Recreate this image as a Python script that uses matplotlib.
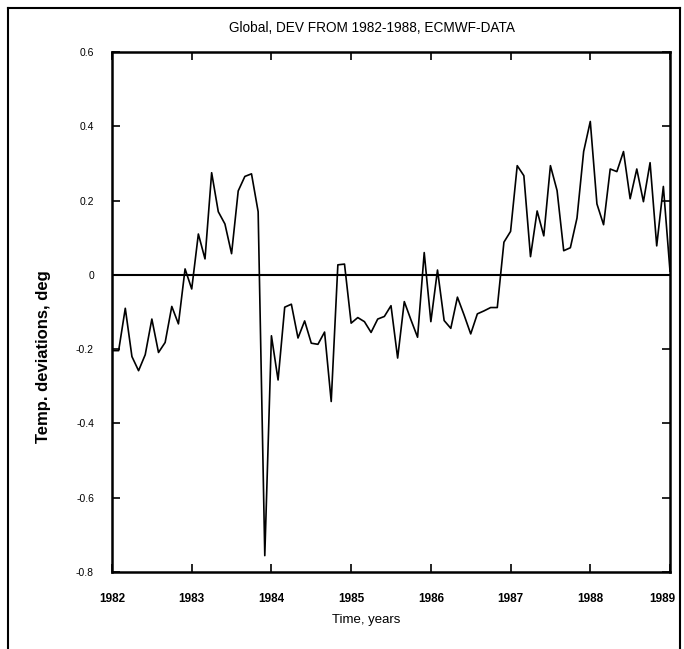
import matplotlib
matplotlib.use("Agg")
import matplotlib.pyplot as plt
from matplotlib import transforms
import numpy as np

# ---- data (monthly deviations, Jan 1982 .. Jan 1989) ----
start_year = 1982
deviations = [
    -0.204, -0.204, -0.090, -0.220, -0.258, -0.215, -0.119, -0.209, -0.182, -0.085, -0.132, 0.016,
    -0.038, 0.110, 0.043, 0.275, 0.170, 0.137, 0.057, 0.226, 0.265, 0.272, 0.170, -0.756,
    -0.164, -0.283, -0.087, -0.079, -0.170, -0.124, -0.184, -0.187, -0.154, -0.341, 0.027, 0.029,
    -0.130, -0.115, -0.126, -0.155, -0.119, -0.112, -0.083, -0.224, -0.072, -0.121, -0.168, 0.060,
    -0.126, 0.013, -0.123, -0.144, -0.060, -0.108, -0.159, -0.105, -0.097, -0.088, -0.088, 0.088,
    0.117, 0.294, 0.267, 0.049, 0.172, 0.105, 0.294, 0.227, 0.065, 0.073, 0.153, 0.332,
    0.413, 0.191, 0.135, 0.285, 0.278, 0.332, 0.205, 0.285, 0.197, 0.302, 0.078, 0.238,
    0.010,
]
x_ticks = [1982, 1983, 1984, 1985, 1986, 1987, 1988, 1989]
y_ticks = [-0.8, -0.6, -0.4, -0.2, 0.0, 0.2, 0.4, 0.6]
y_tick_labels = ["-0.8", "-0.6", "-0.4", "-0.2", "0", "0.2", "0.4", "0.6"]
title = "Global, DEV FROM 1982-1988, ECMWF-DATA"
xlabel = "Time, years"
ylabel = "Temp. deviations, deg"

plt.rcParams["font.family"] = ["Liberation Sans", "DejaVu Sans"]

W, H = 684, 649
fig = plt.figure(figsize=(W / 100, H / 100), dpi=100)
ax = fig.add_axes([112 / W, 1 - 572 / H, (670 - 112) / W, (572 - 52) / H])

t = start_year + np.arange(len(deviations)) / 12.0
ax.plot(t, deviations, color="black", lw=1.2)
ax.axhline(0, color="black", lw=1.5)

ax.set_xlim(1982, 1989)
ax.set_ylim(-0.8, 0.6)
ax.set_xticks(x_ticks)
ax.set_xticklabels([str(v) for v in x_ticks], fontsize=8.5, fontweight="bold")
ax.set_yticks(y_ticks)
ax.set_yticklabels(y_tick_labels, fontsize=7.5)
ax.tick_params(direction="in", top=True, right=True, length=6, width=1.2)
ax.tick_params(axis="x", pad=15)
ax.tick_params(axis="y", pad=13)
for s in ax.spines.values():
    s.set_linewidth(1.8)

# shift last x label slightly left (as in reference)
last = ax.get_xticklabels()[-1]
last.set_transform(last.get_transform() + transforms.ScaledTranslation(-8 / 100, 0, fig.dpi_scale_trans))

fig.text(372 / W, 1 - 28 / H, title, ha="center", va="center", fontsize=9.8)
fig.text(366 / W, 1 - 620 / H, xlabel, ha="center", va="center", fontsize=9.5)
fig.text(44 / W, 1 - 357 / H, ylabel, ha="center", va="center", rotation=90,
         fontsize=12, fontweight="bold")

# outer frame lines
fig.add_artist(plt.Line2D([8 / W, 8 / W], [0, 1 - 8 / H], transform=fig.transFigure, color="black", lw=1.5))
fig.add_artist(plt.Line2D([8 / W, 680 / W], [1 - 8 / H, 1 - 8 / H], transform=fig.transFigure, color="black", lw=1.5))
fig.add_artist(plt.Line2D([680 / W, 680 / W], [0, 1 - 8 / H], transform=fig.transFigure, color="black", lw=1.5))

fig.savefig("out.png", dpi=100)
